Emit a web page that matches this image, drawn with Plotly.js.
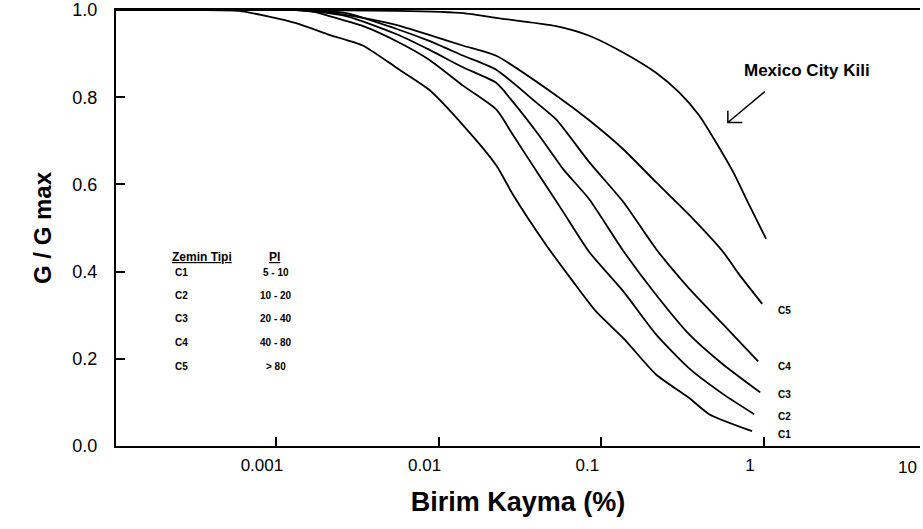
<!DOCTYPE html>
<html>
<head>
<meta charset="utf-8">
<script src="https://cdn.plot.ly/plotly-3.0.1.min.js"></script>
<style>html,body{margin:0;padding:0;background:#fff;}#chart{width:923px;height:529px;}</style>
</head>
<body>
<div id="chart"></div>
<script>
// ---- data ----
const xC1 = [0.000104, 0.000324, 0.000594, 0.00133, 0.00213, 0.00344, 0.00548, 0.00875, 0.0142, 0.0226, 0.0288, 0.0458, 0.0671, 0.0931, 0.137, 0.217, 0.347, 0.46, 0.845];
const yC1 = [1.0, 1.0, 0.998, 0.970, 0.943, 0.918, 0.868, 0.817, 0.735, 0.644, 0.575, 0.461, 0.377, 0.308, 0.247, 0.164, 0.110, 0.073, 0.034];

const xC2 = [0.000104, 0.0016, 0.00213, 0.00344, 0.00548, 0.00875, 0.0142, 0.0226, 0.0288, 0.0415, 0.0583, 0.0843, 0.137, 0.217, 0.347, 0.561, 0.87];
const yC2 = [1.0, 0.998, 0.986, 0.963, 0.929, 0.886, 0.826, 0.772, 0.712, 0.621, 0.537, 0.445, 0.354, 0.256, 0.178, 0.119, 0.073];

const xC3 = [0.000104, 0.00133, 0.0027, 0.00548, 0.00875, 0.0142, 0.0226, 0.0288, 0.0415, 0.0583, 0.0843, 0.138, 0.217, 0.347, 0.561, 0.948];
const yC3 = [1.0, 1.0, 0.986, 0.945, 0.909, 0.868, 0.833, 0.788, 0.712, 0.635, 0.566, 0.445, 0.347, 0.256, 0.187, 0.123];

const xC4 = [0.000104, 0.00133, 0.0027, 0.00548, 0.00875, 0.0142, 0.0226, 0.0398, 0.0528, 0.0843, 0.137, 0.217, 0.347, 0.561, 0.921];
const yC4 = [1.0, 1.0, 0.993, 0.957, 0.929, 0.895, 0.863, 0.788, 0.749, 0.651, 0.559, 0.452, 0.361, 0.279, 0.194];

const xC5 = [0.000104, 0.0016, 0.00344, 0.00548, 0.00875, 0.0142, 0.0226, 0.0528, 0.0843, 0.137, 0.217, 0.347, 0.561, 0.705, 0.975];
const yC5 = [1.0, 1.0, 0.982, 0.966, 0.943, 0.918, 0.895, 0.804, 0.747, 0.680, 0.605, 0.530, 0.445, 0.393, 0.326];

const xMex = [0.000104, 0.00133, 0.00548, 0.0142, 0.0226, 0.0528, 0.0843, 0.137, 0.217, 0.301, 0.40, 0.508, 0.647, 0.811, 1.03];
const yMex = [1.0, 1.0, 0.998, 0.993, 0.982, 0.963, 0.941, 0.902, 0.856, 0.811, 0.758, 0.696, 0.628, 0.553, 0.475];

const curveNames = ['C1', 'C2', 'C3', 'C4', 'C5'];
const soilTypes = ['C1', 'C2', 'C3', 'C4', 'C5'];
const piRanges = ['5 - 10', '10 - 20', '20 - 40', '40 - 80', '> 80'];

const xTickVals = [0.001, 0.01, 0.1, 1];
const xTickText = ['0.001', '0.01', '0.1', '1'];
const xLastTick = '10';
const yTickVals = [0, 0.2, 0.4, 0.6, 0.8, 1.0];

// ---- build ----
const FONT = 'Liberation Sans, Arial, Helvetica, sans-serif';
const line = {color: '#000', width: 1.8, shape: 'spline', smoothing: 0.6};
const xs = [xC1, xC2, xC3, xC4, xC5];
const ys = [yC1, yC2, yC3, yC4, yC5];
const traces = xs.map((x, i) => ({x: x, y: ys[i], type: 'scatter', mode: 'lines', name: curveNames[i], line: line, hoverinfo: 'skip'}));
traces.push({x: xMex, y: yMex, type: 'scatter', mode: 'lines', name: 'Mexico City Kili', line: line, hoverinfo: 'skip'});

const annotations = [];
// curve end labels
const endLabelY = [0.027, 0.068, 0.119, 0.183, 0.31];
curveNames.forEach((n, i) => annotations.push({xref: 'paper', yref: 'y', x: 0.832, y: endLabelY[i], text: '<b>' + n + '</b>', showarrow: false, font: {family: FONT, size: 10, color: '#000'}, xanchor: 'center', yanchor: 'middle'}));
// Mexico label
annotations.push({xref: 'paper', yref: 'paper', x: 0.859, y: 0.861, text: '<b>Mexico City Kili</b>', showarrow: false, font: {family: FONT, size: 17, color: '#000'}, xanchor: 'center', yanchor: 'middle'});
// table
annotations.push({xref: 'paper', yref: 'paper', x: 0.107, y: 0.434, text: '<b><u>Zemin Tipi</u></b>', showarrow: false, font: {family: FONT, size: 12, color: '#000'}, xanchor: 'center', yanchor: 'middle'});
annotations.push({xref: 'paper', yref: 'paper', x: 0.197, y: 0.434, text: '<b><u>PI</u></b>', showarrow: false, font: {family: FONT, size: 12, color: '#000'}, xanchor: 'center', yanchor: 'middle'});
const rowY = [0.397, 0.345, 0.292, 0.237, 0.183];
soilTypes.forEach((s, i) => {
  annotations.push({xref: 'paper', yref: 'paper', x: 0.082, y: rowY[i], text: '<b>' + s + '</b>', showarrow: false, font: {family: FONT, size: 10, color: '#000'}, xanchor: 'center', yanchor: 'middle'});
  annotations.push({xref: 'paper', yref: 'paper', x: 0.199, y: rowY[i], text: '<b>' + piRanges[i] + '</b>', showarrow: false, font: {family: FONT, size: 10, color: '#000'}, xanchor: 'center', yanchor: 'middle'});
});
// last x tick label (its tick lies just outside the drawn range)
annotations.push({xref: 'paper', yref: 'paper', x: 0.985, y: 0, yshift: -10, text: xLastTick, showarrow: false, font: {family: FONT, size: 17, color: '#000'}, xanchor: 'center', yanchor: 'top'});

const layout = {
  width: 923, height: 529,
  margin: {l: 116, r: 3, t: 10, b: 83},
  paper_bgcolor: '#fff', plot_bgcolor: '#fff',
  showlegend: false,
  font: {family: FONT, color: '#000'},
  xaxis: {
    type: 'log', range: [-3.983, 0.959],
    tickvals: xTickVals, ticktext: xTickText,
    ticks: 'inside', ticklen: 9, tickwidth: 2, tickcolor: '#000',
    ticklabelshift: -14, ticklabelstandoff: 3, ticklabeloverflow: 'allow',
    showgrid: false, zeroline: false,
    showline: true, linecolor: '#000', linewidth: 2, mirror: true,
    tickfont: {family: FONT, size: 17, color: '#000'},
    title: {text: '<b>Birim Kayma (%)</b>', font: {family: FONT, size: 27, color: '#000'}, standoff: 18}
  },
  yaxis: {
    range: [0, 1], tickvals: yTickVals, tickformat: '.1f',
    ticks: 'inside', ticklen: 9, tickwidth: 2, tickcolor: '#000',
    ticklabelstandoff: 13, ticklabeloverflow: 'allow',
    showgrid: false, zeroline: false,
    showline: true, linecolor: '#000', linewidth: 2,
    tickfont: {family: FONT, size: 18, color: '#000'},
    title: {text: '<b>G / G max</b>', font: {family: FONT, size: 24, color: '#000'}, standoff: 14}
  },
  annotations: annotations,
  shapes: [{
    type: 'path', xref: 'paper', yref: 'paper',
    path: 'M0.807,0.813 L0.761,0.742 M0.761,0.769 L0.761,0.742 L0.779,0.742',
    line: {color: '#000', width: 1.5}
  }]
};

Plotly.newPlot('chart', traces, layout, {displayModeBar: false, staticPlot: true});
</script>
</body>
</html>
